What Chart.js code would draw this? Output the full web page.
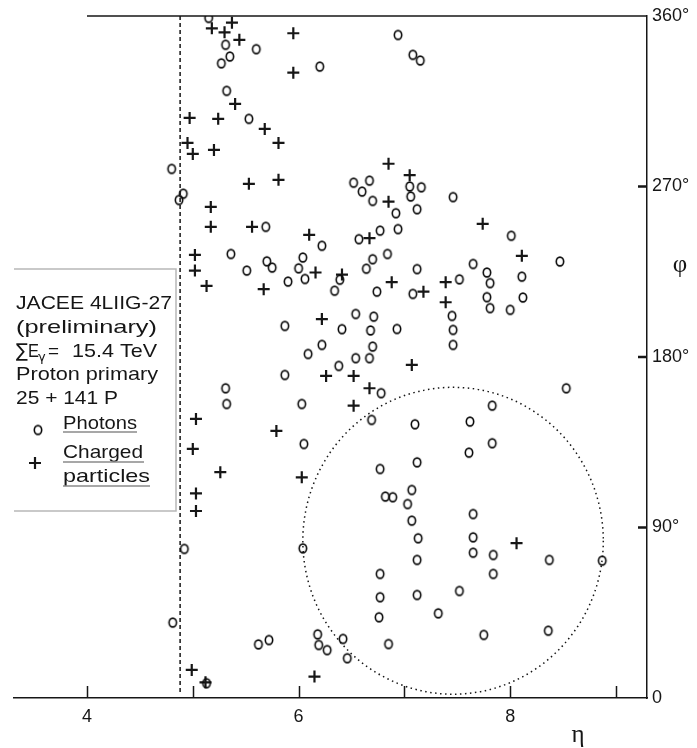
<!DOCTYPE html>
<html>
<head>
<meta charset="utf-8">
<script src="https://cdn.jsdelivr.net/npm/chart.js@4.4.1/dist/chart.umd.min.js"></script>
<style>
  html, body { margin: 0; padding: 0; background: #fff; }
  #wrap { width: 697px; height: 748px; position: relative; }
</style>
</head>
<body>
<div id="wrap"><canvas id="etaPhi"></canvas></div>
<script>
// photon hits: pseudorapidity and azimuth (deg)
const photonEta = [5.15, 5.31, 5.60, 5.35, 5.27, 6.20, 5.32, 5.53, 4.80, 4.91, 4.87, 5.69, 6.22, 5.36, 5.70,
  5.75, 6.04, 6.00, 6.06, 5.51, 5.90, 6.34, 6.39, 5.87, 6.41, 6.09, 6.22, 5.87, 6.38, 5.31, 5.32, 6.03, 6.05,
  6.94, 7.08, 7.15, 6.52, 6.67, 6.60, 6.70, 7.05, 7.16, 7.06, 7.46, 6.92, 7.12, 6.57, 6.77, 6.94, 8.01,
  6.84, 6.70, 6.64, 7.12, 7.65, 7.78, 7.81, 8.11, 8.47, 6.74, 7.08, 7.52, 7.78, 7.81, 8.00, 8.12, 6.54, 6.71,
  6.68, 6.93, 7.45, 7.46, 7.46, 6.70, 6.54, 6.67, 6.78, 8.53, 7.83, 6.69, 7.10, 7.62, 7.83, 7.61, 6.77, 7.12,
  6.82, 6.89, 7.07, 7.03, 4.92, 4.81, 5.13, 5.62, 5.72, 6.18, 6.19, 6.27, 6.42, 6.46, 6.04,
  7.65, 7.07, 7.13, 7.65, 7.65, 7.84, 7.12, 8.37, 8.87, 7.84, 6.77, 6.77, 7.12, 7.52, 6.76, 7.32, 7.75, 8.36, 6.85];
const photonPhi = [359, 344.8, 342.5, 338.6, 335.0, 333.3, 320.5, 305.7, 279.3, 266.2, 262.9, 248.7, 238.7, 234.4, 230.5,
  227.2, 232.5, 226.8, 221.2, 225.6, 219.8, 215.0, 220.8, 196.4, 194.7, 181.6, 186.4, 170.5, 175.3, 163.5, 155.2, 155.2, 134.1,
  350.0, 339.5, 336.5, 272.0, 273.1, 267.3, 262.4, 270.0, 269.6, 264.7, 264.4, 255.9, 258.0, 242.2, 246.7, 247.5, 244.0,
  234.4, 231.6, 226.6, 226.4, 229.1, 224.6, 219.0, 222.4, 230.4, 214.5, 213.3, 221.0, 211.6, 205.8, 204.9, 211.4, 202.7, 201.3,
  194.0, 194.8, 201.7, 194.3, 186.4, 185.5, 179.4, 179.4, 160.9, 163.5, 154.3, 146.8, 144.5, 145.9, 134.5, 129.5, 120.9, 124.4,
  106.3, 106.0, 109.8, 102.4, 78.7, 39.8, 7.8, 28.3, 30.6, 33.6, 28.0, 25.3, 31.2, 21.0, 79.0,
  97.1, 93.6, 84.3, 84.8, 76.7, 75.5, 72.9, 72.9, 72.5, 65.5, 65.5, 53.2, 54.4, 56.5, 42.6, 44.7, 33.3, 35.5, 28.5];

// charged particle tracks
const chargedEta = [5.37, 5.18, 5.30, 5.44, 5.95, 5.95, 5.40, 4.97, 5.24, 5.68, 5.81, 4.95, 5.00, 5.20, 5.53, 5.81,
  5.17, 5.17, 5.56, 6.10, 5.02, 6.85, 7.05, 6.85, 6.67, 7.74, 8.11, 5.02, 5.13, 5.67, 6.16, 6.41, 6.22, 6.26,
  5.03, 5.79, 5.00, 5.26, 6.03, 5.03, 5.03, 6.88, 7.18, 7.39, 7.39, 7.07, 6.52, 6.67, 6.52, 4.99, 5.12, 6.15, 8.06];
const chargedPhi = [356.5, 353.5, 351.4, 347.4, 350.9, 330.1, 313.6, 306.2, 305.7, 300.4, 293.0, 293.0, 287.2, 289.3, 271.4, 273.5,
  259.2, 248.7, 248.7, 244.5, 233.9, 282.0, 276.0, 262.0, 242.7, 250.3, 233.4, 225.6, 217.5, 215.8, 224.6, 223.5, 200.0, 170.0,
  147.3, 141.0, 131.5, 119.2, 116.5, 108.0, 98.7, 219.5, 214.5, 219.5, 208.9, 175.8, 170.0, 163.5, 154.3, 14.8, 8.3, 11.3, 81.7];

const etaTicks = [4, 5, 6, 7, 8, 9];
const etaTickLabels = ['4', '', '6', '', '8', ''];
const phiTicks = [0, 90, 180, 270, 360];
const phiTickLabels = ['0', '90°', '180°', '270°', '360°'];

// dashed acceptance edge and the dotted cone around the cluster
const etaCut = 4.88;
const coneEta = 7.46, conePhi = 83, coneREta = 1.42, coneRPhi = 81;

const infoLines = ['JACEE 4LIIG-27', '(preliminary)', '', 'Proton primary', '25 + 141 P'];

const INK = '#161616';
const SANS = '"Liberation Sans", Arial, sans-serif';

// small upright oval used for the photon marks
function ringMarker() {
  const c = document.createElement('canvas');
  c.width = 12; c.height = 13;
  const g = c.getContext('2d');
  g.strokeStyle = '#0a0a0a';
  g.lineWidth = 1.6;
  g.beginPath();
  g.ellipse(6, 6.5, 3.7, 4.4, 0, 0, Math.PI * 2);
  g.stroke();
  return c;
}
const ring = ringMarker();

// text squeezed/stretched to a given width
function fitText(ctx, text, x, y, w) {
  const m = ctx.measureText(text).width;
  ctx.save();
  ctx.translate(x, y);
  ctx.scale(w / m, 1);
  ctx.fillText(text, 0, 0);
  ctx.restore();
}

const decorations = {
  id: 'decorations',
  beforeDatasetsDraw(chart) {
    const { ctx, chartArea: a, scales: { x, y } } = chart;
    ctx.save();
    ctx.strokeStyle = INK;
    ctx.lineWidth = 1.5;

    // top frame line starts at eta = 4
    ctx.beginPath();
    ctx.moveTo(x.getPixelForValue(4), a.top);
    ctx.lineTo(a.right, a.top);
    ctx.stroke();

    // inward tick marks
    ctx.beginPath();
    etaTicks.forEach(v => {
      const px = Math.round(x.getPixelForValue(v)) + 0.5;
      ctx.moveTo(px, a.bottom);
      ctx.lineTo(px, a.bottom - 12);
    });
    ctx.stroke();
    ctx.lineWidth = 2.5;
    ctx.beginPath();
    phiTicks.slice(1, -1).forEach(v => {
      const py = y.getPixelForValue(v);
      ctx.moveTo(a.right - 9, py);
      ctx.lineTo(a.right, py);
    });
    ctx.stroke();

    // dashed cut line
    ctx.lineWidth = 1.5;
    ctx.setLineDash([4, 3]);
    const cx = x.getPixelForValue(etaCut);
    ctx.beginPath();
    ctx.moveTo(cx, a.top);
    ctx.lineTo(cx, a.bottom - 6);
    ctx.stroke();

    // dotted cone
    ctx.setLineDash([1.5, 3.5]);
    const ex = x.getPixelForValue(coneEta), ey = y.getPixelForValue(conePhi);
    const rx = x.getPixelForValue(coneEta + coneREta) - ex;
    const ry = ey - y.getPixelForValue(conePhi + coneRPhi);
    ctx.beginPath();
    ctx.ellipse(ex, ey, rx, ry, 0, 0, Math.PI * 2);
    ctx.stroke();
    ctx.restore();
  },
  afterDraw(chart) {
    const ctx = chart.ctx;
    ctx.save();

    // info box (open on the left)
    ctx.strokeStyle = '#b8b8b8';
    ctx.lineWidth = 1.5;
    ctx.beginPath();
    ctx.moveTo(14, 269);
    ctx.lineTo(176, 269);
    ctx.lineTo(176, 511);
    ctx.lineTo(14, 511);
    ctx.stroke();

    ctx.fillStyle = INK;
    ctx.textBaseline = 'alphabetic';
    ctx.font = '18.5px ' + SANS;
    const widths = [156, 141, 0, 142, 102];
    const bases = [309, 333, 357, 380, 404];
    infoLines.forEach((t, i) => {
      if (t) fitText(ctx, t, 16, bases[i], widths[i]);
    });

    // sum line with subscript gamma
    ctx.font = '19px "DejaVu Sans", sans-serif';
    fitText(ctx, '∑', 16, 357, 12);
    ctx.font = '18.5px ' + SANS;
    fitText(ctx, 'E', 28, 357, 11);
    ctx.font = '13px "DejaVu Sans", sans-serif';
    ctx.fillText('γ', 38, 361);
    ctx.font = '18.5px ' + SANS;
    fitText(ctx, '=', 48, 357, 11);
    fitText(ctx, '15.4 TeV', 72, 357, 85);

    // legend entries
    ctx.drawImage(ring, 38 - ring.width / 2, 430 - ring.height / 2);
    ctx.strokeStyle = INK;
    ctx.lineWidth = 2.2;
    ctx.beginPath();
    ctx.moveTo(29, 463); ctx.lineTo(41, 463);
    ctx.moveTo(35, 457); ctx.lineTo(35, 469);
    ctx.stroke();

    fitText(ctx, 'Photons', 63, 429, 74);
    fitText(ctx, 'Charged', 63, 458, 80);
    fitText(ctx, 'particles', 63, 482, 87);
    ctx.strokeStyle = '#8a8a8a';
    ctx.lineWidth = 1.5;
    ctx.beginPath();
    ctx.moveTo(63, 432); ctx.lineTo(137, 432);
    ctx.moveTo(63, 462); ctx.lineTo(144, 462);
    ctx.moveTo(63, 486); ctx.lineTo(150, 486);
    ctx.stroke();

    // axis titles
    ctx.fillStyle = INK;
    ctx.textAlign = 'center';
    ctx.textBaseline = 'middle';
    ctx.font = '25px "Liberation Serif", serif';
    ctx.fillText('η', 578, 735);
    ctx.fillText('φ', 680, 265);
    ctx.restore();
  }
};

new Chart(document.getElementById('etaPhi'), {
  type: 'scatter',
  data: {
    datasets: [
      {
        label: 'Photons',
        data: photonEta.map((e, i) => ({ x: e, y: photonPhi[i] })),
        pointStyle: ring,
        pointRadius: 4
      },
      {
        label: 'Charged particles',
        data: chargedEta.map((e, i) => ({ x: e, y: chargedPhi[i] })),
        pointStyle: 'cross',
        pointRadius: 6,
        borderWidth: 2.2,
        borderColor: INK
      }
    ]
  },
  options: {
    responsive: true,
    maintainAspectRatio: false,
    animation: false,
    events: [],
    layout: { padding: { left: 14, top: 16, right: 0, bottom: 0 } },
    plugins: { legend: { display: false }, tooltip: { enabled: false } },
    scales: {
      x: {
        type: 'linear',
        position: 'bottom',
        min: 3.31,
        max: 9.293,
        afterBuildTicks: s => { s.ticks = etaTicks.map(v => ({ value: v })); },
        afterFit: s => { s.height = 50; },
        grid: { display: false, drawTicks: false },
        border: { display: true, color: INK, width: 1.5 },
        ticks: {
          autoSkip: false,
          maxRotation: 0,
          padding: 8,
          color: INK,
          font: { family: SANS, size: 18 },
          callback: (v, i) => etaTickLabels[i]
        }
      },
      y: {
        type: 'linear',
        position: 'right',
        min: 0,
        max: 360,
        afterBuildTicks: s => { s.ticks = phiTicks.map(v => ({ value: v })); },
        afterFit: s => { s.width = 50; },
        grid: { display: false, drawTicks: false },
        border: { display: true, color: INK, width: 1.5 },
        ticks: {
          autoSkip: false,
          padding: 5,
          color: INK,
          font: { family: SANS, size: 18 },
          callback: (v, i) => phiTickLabels[i]
        }
      }
    }
  },
  plugins: [decorations]
});
</script>
</body>
</html>
